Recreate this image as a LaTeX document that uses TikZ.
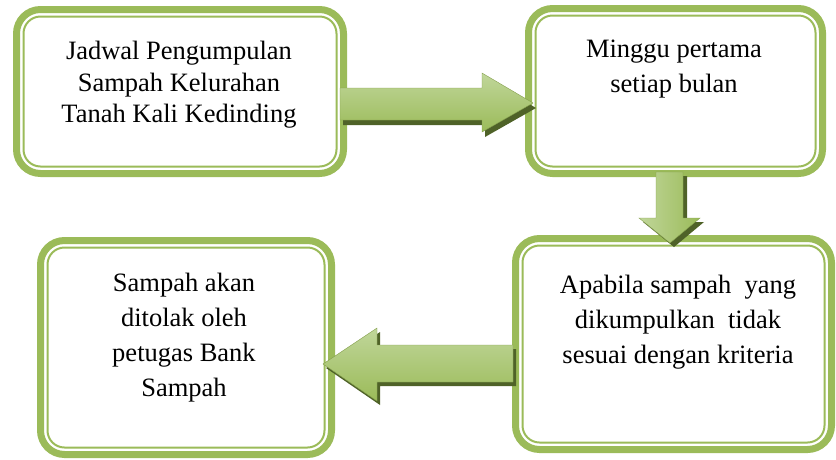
\documentclass[tikz,border=0pt]{standalone}
\usepackage{fontspec}
\setmainfont{Liberation Serif}
\definecolor{grn}{HTML}{9BBB59}
\definecolor{grnlt}{HTML}{C0D69A}
\definecolor{grndk}{HTML}{4F6228}
\begin{document}
\begin{tikzpicture}[x=1pt,y=-1pt,
  boxouter/.style 2 args={draw=grn, line width=7pt, rounded corners=24pt, fill=white,
     minimum width=#1pt, minimum height=#2pt, inner sep=0pt, outer sep=0pt},
  boxinner/.style={draw=grn, line width=2pt, rounded corners=17pt},
  txt/.style={font=\fontsize{26.5}{35}\selectfont, align=center, inner sep=0pt, anchor=north},
  arrshadow/.style={fill=grndk, draw=none},
  arrbodyh/.style={top color=grnlt, bottom color=grn, draw=grn!85!black, line width=0.4pt},
  arrbodyv/.style={left color=grnlt, right color=grn, draw=grn!85!black, line width=0.4pt}]
\useasboundingbox (0,0) rectangle (836,459);

% boxes
\node[boxouter={327}{164}] (b1) at (180,91.5) {};
\node[boxouter={294}{165}] (b2) at (675.5,91) {};
\node[boxouter={316}{211}] (b3) at (673.5,344) {};
\node[boxouter={291}{214}] (b4) at (186,347.5) {};
\foreach \b in {b1,b2,b3,b4}
  \draw[boxinner] ([shift={(7,7)}]\b.north west) rectangle ([shift={(-7,-7)}]\b.south east);

% texts
\node[txt, font=\fontsize{26.5}{31.5}\selectfont] (t1) at (179,41) {Jadwal Pengumpulan\\Sampah Kelurahan\\Tanah Kali Kedinding};
\node[txt] (t2) at (674,40) {Minggu pertama\\setiap bulan};
\node[txt] (t3) at (678,275) {Apabila sampah~ yang\\dikumpulkan~ tidak\\sesuai dengan kriteria};
\node[txt] (t4) at (184,273) {Sampah akan\\ditolak oleh\\petugas Bank\\Sampah};

% arrow 1: b1 -> b2
\fill[arrshadow, shift={(3,5)}] (340,88) -- (482,88) -- (482,73) -- (533,103) -- (482,132) -- (482,120) -- (340,120) -- cycle;
\path[arrbodyh] (340,88) -- (482,88) -- (482,73) -- (533,103) -- (482,132) -- (482,120) -- (340,120) -- cycle;

% arrow 2: b2 -> b3
\fill[arrshadow, shift={(4,4)}] (656,172) -- (683,172) -- (683,218) -- (700,218) -- (670,243) -- (639,218) -- (656,218) -- cycle;
\path[arrbodyv] (656,172) -- (683,172) -- (683,218) -- (700,218) -- (670,243) -- (639,218) -- (656,218) -- cycle;

% arrow 3: b3 -> b4
\fill[arrshadow, shift={(3,4)}] (513,345) -- (377,345) -- (377,328) -- (323,364) -- (377,401) -- (377,382) -- (513,382) -- cycle;
\path[arrbodyh] (513,345) -- (377,345) -- (377,328) -- (323,364) -- (377,401) -- (377,382) -- (513,382) -- cycle;
\end{tikzpicture}
\end{document}
